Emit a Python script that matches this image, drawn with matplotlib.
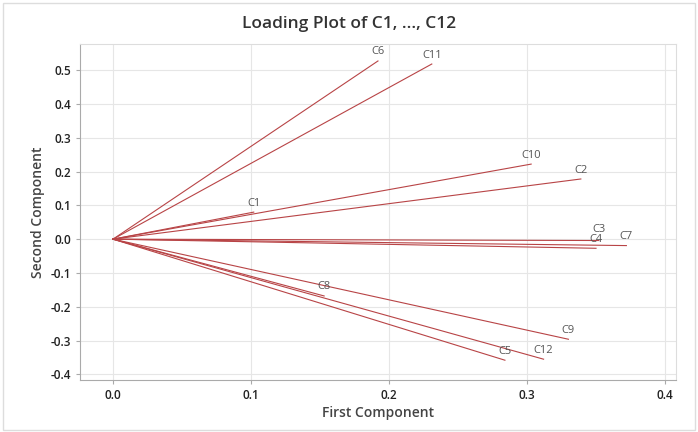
import matplotlib.pyplot as plt
from matplotlib.patches import Rectangle

plt.rcParams['font.family'] = ['Open Sans', 'DejaVu Sans']

# loadings
names = ['C1', 'C2', 'C3', 'C4', 'C5', 'C6', 'C7', 'C8', 'C9', 'C10', 'C11', 'C12']
first = [0.102, 0.339, 0.352, 0.350, 0.284, 0.192, 0.372, 0.153, 0.330, 0.303, 0.231, 0.312]
second = [0.080, 0.178, -0.004, -0.027, -0.358, 0.527, -0.019, -0.168, -0.296, 0.222, 0.518, -0.355]

xticks = [0.0, 0.1, 0.2, 0.3, 0.4]
yticks = [-0.4, -0.3, -0.2, -0.1, 0.0, 0.1, 0.2, 0.3, 0.4, 0.5]

fig = plt.figure(figsize=(6.98, 4.32), dpi=100)
ax = fig.add_axes([0.1146, 0.120, 0.854, 0.778])

line_col = '#b84446'
for name, x, y in zip(names, first, second):
    ax.plot([0, x], [0, y], color=line_col, lw=0.8, zorder=3)
    # C3 label sits a bit higher so it clears C4
    dy = 4 if name == 'C3' else 2.5
    ax.annotate(name, (x, y), xytext=(0, dy), textcoords='offset points',
                ha='center', va='bottom', fontsize=8, color='#555555', zorder=4)

ax.set_xlim(-0.0239, 0.408)
ax.set_ylim(-0.417, 0.577)
ax.set_xticks(xticks)
ax.set_yticks(yticks)
ax.set_xticklabels([f'{v:.1f}' for v in xticks])
ax.set_yticklabels([f'{v:.1f}' for v in yticks])
ax.grid(True, color='#e6e6e6', lw=0.8, zorder=0)
ax.set_axisbelow(True)
ax.tick_params(labelsize=8.5, colors='#aaaaaa', labelcolor='#222222', length=3, width=0.8)
for lab in ax.get_xticklabels() + ax.get_yticklabels():
    lab.set_fontweight('semibold')
for s in ax.spines.values():
    s.set_color('#dddddd')
ax.spines['left'].set_color('#aaaaaa')
ax.spines['bottom'].set_color('#aaaaaa')

ax.set_xlabel('First Component', fontsize=10, color='#444444', fontweight='semibold', labelpad=3)
ax.set_ylabel('Second Component', fontsize=10, color='#444444', fontweight='semibold', labelpad=4)
fig.suptitle('Loading Plot of C1, ..., C12', fontsize=12.5, color='#333333',
             fontweight='semibold', y=0.962)

fig.patches.append(Rectangle((0.004, 0.004), 0.992, 0.988, transform=fig.transFigure,
                             fill=False, edgecolor='#dddddd', lw=1))

fig.savefig('out.png', dpi=100)
